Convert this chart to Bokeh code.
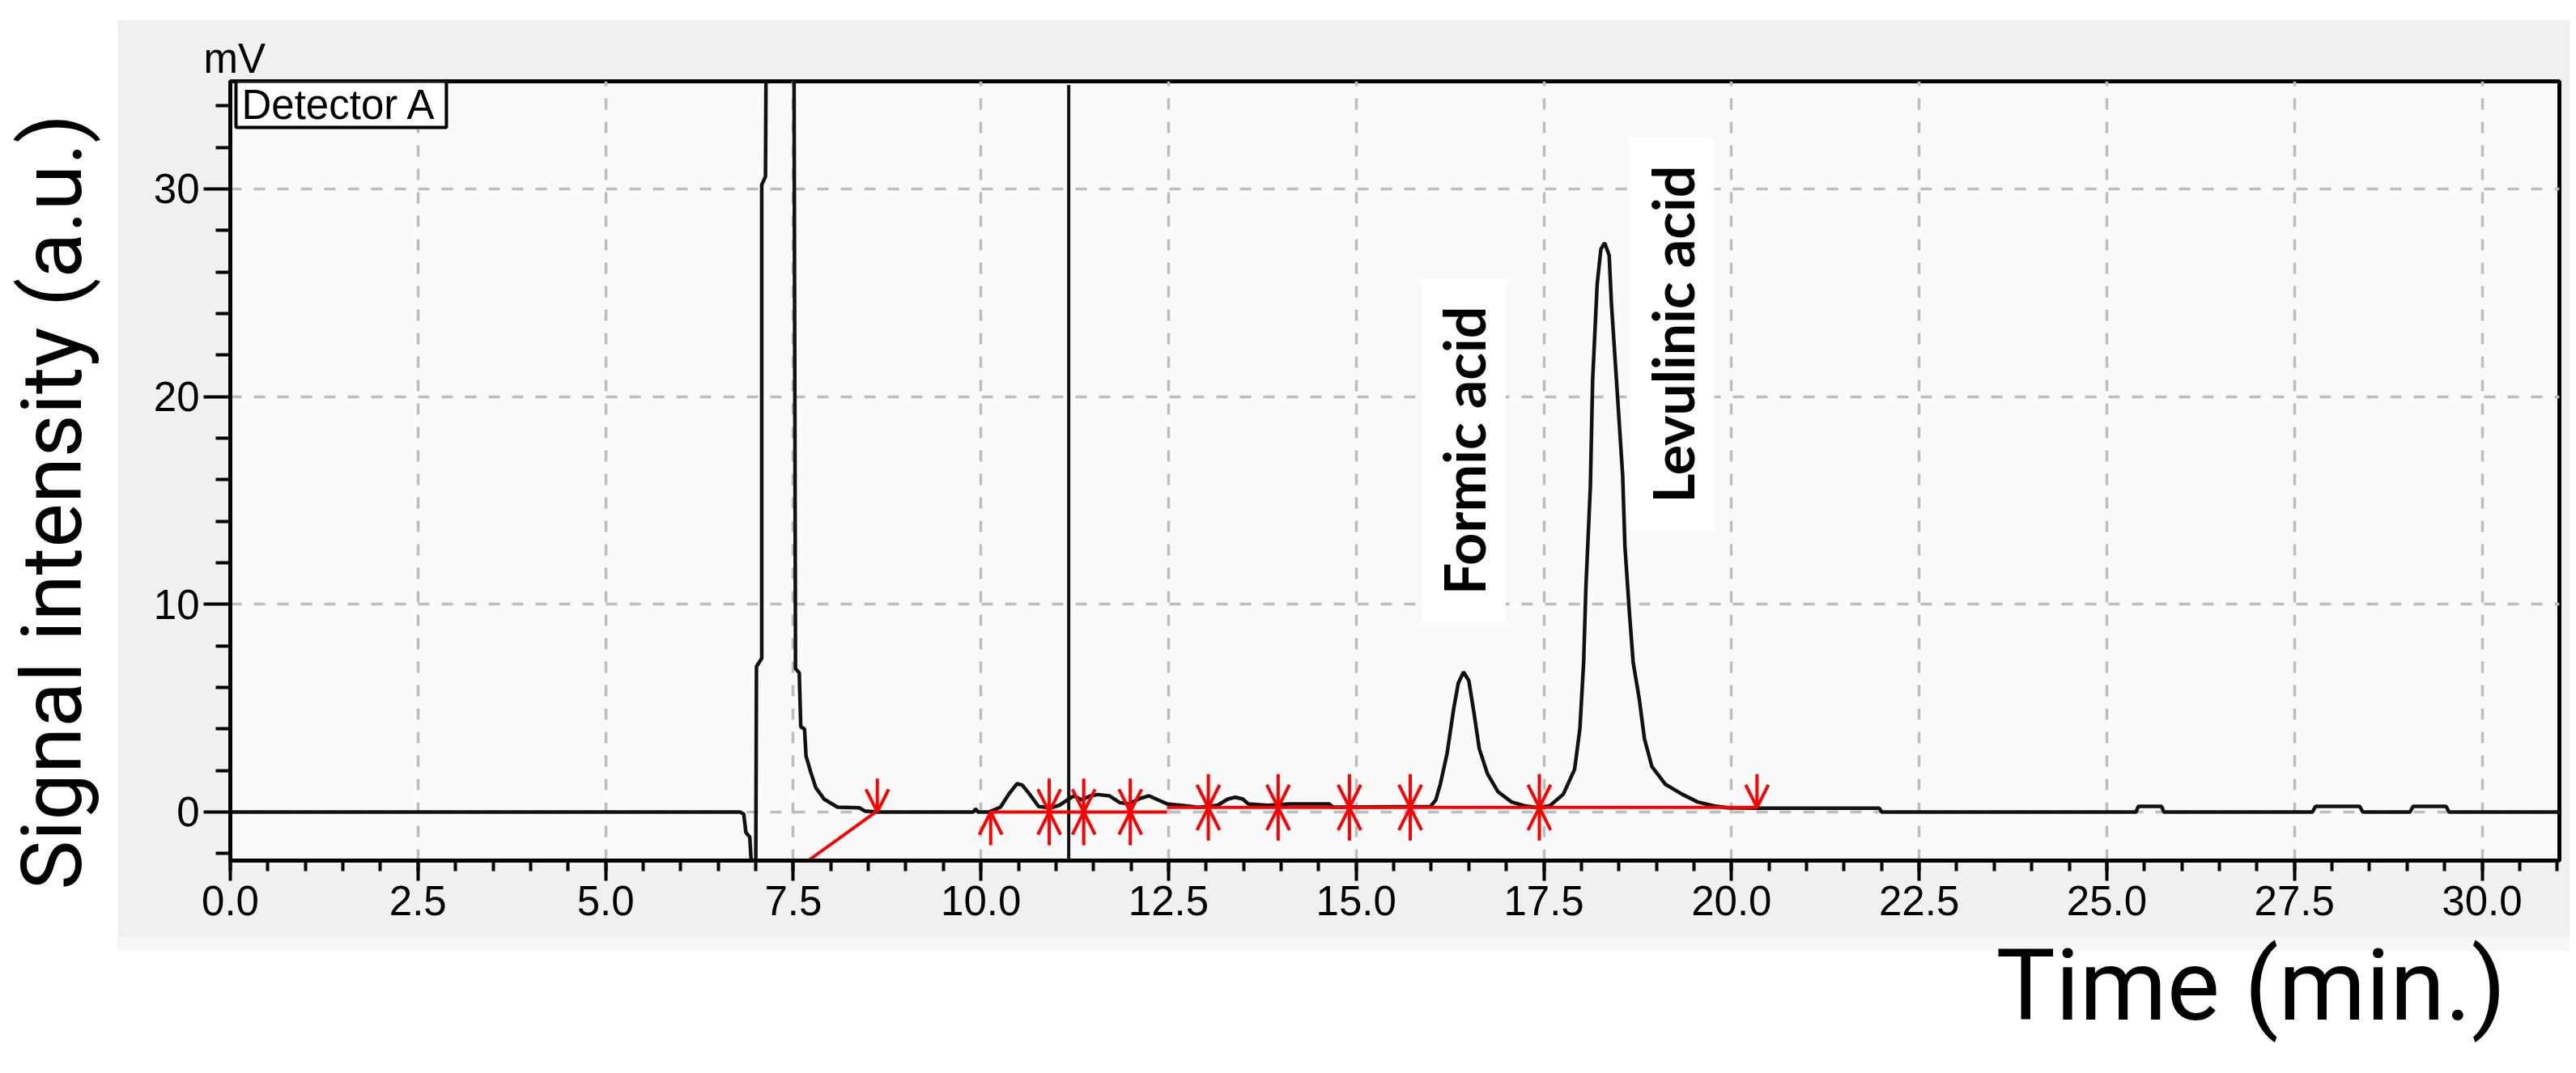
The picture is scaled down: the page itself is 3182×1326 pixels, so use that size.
import numpy as np
from bokeh.plotting import figure
from bokeh.models import (Range1d, FixedTicker, NumeralTickFormatter, Label, LinearAxis,
                          Arrow, OpenHead, ColumnDataSource, Title)
from bokeh.embed import file_html
from bokeh.resources import INLINE

# ---------------- data ----------------
time_min = [0.0, 6.79, 6.84, 6.87, 6.92, 6.95, 7.0, 7.01, 7.08, 7.08, 7.13, 7.2, 7.45, 7.51,
            7.53, 7.58, 7.60, 7.65, 7.67, 7.73, 7.80, 7.91, 8.09, 8.38, 8.45, 8.62,
            9.90, 9.93, 9.96, 10.11, 10.26, 10.38, 10.48, 10.55, 10.65, 10.77, 10.93, 11.05,
            11.15, 11.24, 11.34, 11.46, 11.56, 11.71, 11.85, 11.97, 12.12, 12.24, 12.36, 12.48,
            12.67, 12.90, 13.15, 13.29, 13.39, 13.49, 13.56, 13.82, 14.11, 14.64, 14.69, 15.99,
            16.06, 16.12, 16.21, 16.30, 16.36, 16.43, 16.50, 16.57, 16.64, 16.75, 16.89, 17.07,
            17.25, 17.44, 17.58, 17.76, 17.91, 17.98, 18.03, 18.06, 18.12, 18.15, 18.21, 18.26,
            18.31, 18.37, 18.40, 18.48, 18.55, 18.58, 18.64, 18.69, 18.77, 18.84, 18.94, 19.12,
            19.34, 19.55, 19.77, 19.95, 20.34, 21.97, 22.00, 25.39, 25.42, 25.73, 25.76, 27.74,
            27.78, 28.37, 28.41, 29.04, 29.08, 29.52, 29.56, 31.03]
signal_mv = [0.0, 0.0, -0.1, -1.0, -1.2, -3.0, -3.0, 7.0, 7.4, 30.2, 30.6, 80.0, 80.0, 36.0,
             6.9, 6.7, 4.1, 4.0, 2.7, 1.95, 1.17, 0.62, 0.23, 0.2, 0.05, 0.0,
             0.0, 0.15, 0.0, 0.0, 0.23, 0.9, 1.36, 1.3, 0.85, 0.26, 0.2, 0.33,
             0.58, 0.78, 0.58, 0.78, 0.84, 0.78, 0.45, 0.39, 0.65, 0.78, 0.58, 0.39,
             0.32, 0.22, 0.32, 0.62, 0.71, 0.62, 0.39, 0.32, 0.39, 0.39, 0.23, 0.26,
             0.58, 1.33, 2.8, 5.0, 6.2, 6.74, 6.33, 4.75, 3.04, 1.83, 0.97, 0.48,
             0.29, 0.2, 0.3, 0.86, 2.06, 4.0, 7.2, 10.8, 15.7, 20.8, 25.4, 27.1,
             27.4, 26.8, 24.5, 20.1, 16.2, 12.8, 9.6, 7.2, 5.47, 3.53, 2.18, 1.33,
             0.86, 0.48, 0.29, 0.2, 0.18, 0.18, 0.0, 0.0, 0.27, 0.27, 0.0, 0.0,
             0.27, 0.27, 0.0, 0.0, 0.27, 0.27, 0.0, 0.0]

x_major = [0.0, 2.5, 5.0, 7.5, 10.0, 12.5, 15.0, 17.5, 20.0, 22.5, 25.0, 27.5, 30.0]
x_minor = [i * 0.5 for i in range(63)]
y_major = [0, 10, 20, 30]
y_minor = [-2, 2, 4, 6, 8, 12, 14, 16, 18, 22, 24, 26, 28, 32, 34]

event_time = [11.17]
event_top = [35.0]

base_x0 = [7.70, 10.13, 12.48]
base_y0 = [-2.34, 0.0, 0.22]
base_x1 = [8.60, 12.48, 20.34]
base_y1 = [0.0, 0.0, 0.22]

down_t = [8.62, 10.91, 11.37, 11.99, 13.03, 13.96, 14.91, 15.72, 17.44, 20.34]
down_base = [0.0, 0.0, 0.0, 0.0, 0.22, 0.22, 0.22, 0.22, 0.22, 0.22]
up_t = [10.13, 10.91, 11.37, 11.99, 13.03, 13.96, 14.91, 15.72, 17.44]
up_base = [0.0, 0.0, 0.0, 0.0, 0.22, 0.22, 0.22, 0.22, 0.22]

peak_names = ["Formic acid", "Levulinic acid"]
peak_label_x = [16.43, 19.21]
peak_label_y = [17.40, 23.0]

X_START, X_END = 0.0, 31.03
Y_START, Y_END = -2.34, 35.18

# ---------------- figure ----------------
W, H = 3174, 1318
FL, FR, FT, FB = 283, 13, 100, 255
panel_css = {
    "background-color": "white",
    "background-image": "linear-gradient(#f0f0f0, #f0f0f0), linear-gradient(#f7f7f7, #f7f7f7)",
    "background-size": "3029px 1133px, 3029px 17px",
    "background-position": "145px 25px, 145px 1158px",
    "background-repeat": "no-repeat, no-repeat",
}
p = figure(width=W, height=H, output_backend="svg", toolbar_location=None,
           x_range=Range1d(X_START, X_END), y_range=Range1d(Y_START, Y_END),
           min_border_left=FL, min_border_right=FR, min_border_top=FT, min_border_bottom=FB,
           styles=panel_css)
p.border_fill_color = None
p.background_fill_color = "#fafafa"
p.outline_line_color = "black"
p.outline_line_width = 5

TICK_FONT = "Liberation Sans"
TITLE_FONT = "Roboto"
for ax in (p.xaxis[0], p.yaxis[0]):
    ax.axis_line_width = 5
    ax.axis_line_color = "black"
    ax.major_tick_line_width = 4
    ax.minor_tick_line_width = 4
    ax.major_tick_line_color = "black"
    ax.minor_tick_line_color = "black"
    ax.major_tick_in = 0
    ax.minor_tick_in = 0
    ax.major_label_text_font = TICK_FONT
    ax.major_label_text_font_size = "51px"
    ax.major_label_text_color = "black"

p.xaxis.ticker = FixedTicker(ticks=x_major, minor_ticks=x_minor)
p.xaxis.formatter = NumeralTickFormatter(format="0.0")
p.xaxis.major_tick_out = 25
p.xaxis.minor_tick_out = 13
p.xaxis.major_label_standoff = 6

p.yaxis.ticker = FixedTicker(ticks=y_major, minor_ticks=y_minor)
p.yaxis.major_tick_out = 33
p.yaxis.minor_tick_out = 18
p.yaxis.major_label_standoff = 5

for g, tk in ((p.xgrid[0], x_major), (p.ygrid[0], y_major)):
    g.ticker = FixedTicker(ticks=tk)
    g.grid_line_color = "#bdbdbd"
    g.grid_line_width = 3.5
    g.grid_line_dash = "14 15"

# y title carried by a bare outer axis; trailing no-break spaces lower the centred label
ytitle_axis = LinearAxis(ticker=FixedTicker(ticks=[]),
                         axis_line_color=None, major_tick_line_color=None,
                         minor_tick_line_color=None, major_tick_out=0, minor_tick_out=0,
                         major_tick_in=0, minor_tick_in=0, major_label_standoff=0,
                         major_label_text_font_size="1px",
                         axis_label="Signal intensity (a.u.)\u00a0\u00a0\u00a0",
                         axis_label_standoff=62,
                         axis_label_text_font=TITLE_FONT, axis_label_text_font_size="103px",
                         axis_label_text_font_style="normal", axis_label_text_color="black")
p.add_layout(ytitle_axis, "left")

# unit label above the y axis
p.title.text = "mV"
p.title.align = "left"
p.title.offset = -33
p.title.standoff = 0
p.title.text_font = TICK_FONT
p.title.text_font_size = "51px"
p.title.text_font_style = "normal"
p.title.text_color = "black"

# x title placed in the bottom panel, right aligned as in the original
p.add_layout(Title(text="Time (min.)", align="right", offset=66, standoff=20,
                   text_font=TITLE_FONT, text_font_size="123px", text_font_style="normal",
                   text_color="black"), "below")

# ---------------- glyphs ----------------
src = ColumnDataSource(dict(t=time_min, s=signal_mv))
p.line("t", "s", source=src, line_color="#111111", line_width=4.5)

p.segment(x0=event_time, y0=[Y_START] * len(event_time), x1=event_time, y1=event_top,
          line_color="#111111", line_width=4)

p.segment(x0=base_x0, y0=base_y0, x1=base_x1, y1=base_y1, line_color="#ff0000", line_width=4)

ARROW_LEN = 1.6
down_src = ColumnDataSource(dict(x=down_t, y0=[b + ARROW_LEN for b in down_base], y1=down_base))
up_src = ColumnDataSource(dict(x=up_t, y0=[b - ARROW_LEN for b in up_base], y1=up_base))
for s in (down_src, up_src):
    p.add_layout(Arrow(end=OpenHead(size=28, line_color="#ff0000", line_width=4),
                       x_start="x", y_start="y0", x_end="x", y_end="y1", source=s,
                       line_color="#ff0000", line_width=4))

# peak labels
for name, lx, ly in zip(peak_names, peak_label_x, peak_label_y):
    p.add_layout(Label(x=lx, y=ly, text=name, angle=np.pi / 2, text_align="center",
                       text_baseline="middle", text_font="Lato", text_font_style="bold",
                       text_font_size="70px", text_color="black", background_fill_color="white",
                       padding=dict(left=34, right=34, top=10, bottom=10)))

# Detector A legend box
p.add_layout(Label(x=X_START, y=Y_END, x_offset=7, text="Detector A", text_font=TICK_FONT,
                   text_font_size="51px", text_color="black", text_align="left",
                   text_baseline="top", background_fill_color="white",
                   border_line_color="black", border_line_width=4,
                   padding=dict(left=7, right=12, top=0, bottom=0)))

open("out.html", "w").write(file_html(p, INLINE))
